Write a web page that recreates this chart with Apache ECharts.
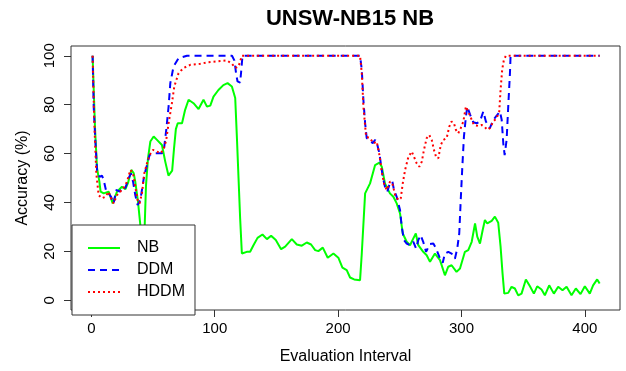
<!DOCTYPE html>
<html>
<head>
<meta charset="utf-8">
<script src="https://cdn.jsdelivr.net/npm/echarts@6/dist/echarts.min.js"></script>
<style>
  html, body { margin: 0; padding: 0; background: #fff; }
  #main { width: 626px; height: 371px; }
</style>
</head>
<body>
<div id="main"></div>
<script>
// values, [interval, accuracy]
var nbPoints = [
  [1, 100], [2, 85], [3, 70], [4.6, 54], [6.5, 48.5], [7.5, 44.4], [10, 43.7], [14, 44.4],
  [17.3, 39.6], [20.8, 44.4], [24.8, 46.4], [27.5, 45.4], [29.7, 48], [32.4, 53.3], [34.3, 52],
  [35.6, 48.5], [37.8, 40.3], [39.7, 30.7], [41.5, 15], [43.2, 30], [44.3, 47], [45.9, 58],
  [47.8, 64.9], [50.5, 67], [53.2, 65.6], [57.2, 63.5], [59.9, 56.7], [62.5, 51], [64, 50.5],
  [65.5, 53], [67, 62], [68.5, 70], [70, 72.4], [73.5, 72.4], [76, 77.9], [78.8, 82], [82.8, 80.6],
  [86.9, 78.2], [90.9, 82], [93.7, 79.2], [96.4, 79.6], [99, 83.3], [103, 86], [107, 88],
  [110.4, 88.8], [113.9, 87.4], [116.6, 82.7], [118, 66.3], [119.3, 49.9], [120.6, 33.5],
  [122, 19.1], [126, 19.8], [128.7, 19.8], [131.4, 22.5], [134.7, 25.5], [138.7, 26.9],
  [142.3, 25], [145.7, 26.4], [149.5, 24.6], [153.8, 20.9], [157.1, 21.9], [162.5, 25],
  [166.5, 22.8], [170.6, 22.3], [174.6, 23.6], [178.1, 22.8], [181.4, 20.5], [184, 20.1],
  [187.6, 21.5], [191.6, 17.4], [196.2, 19.1], [200.2, 17.4], [203.5, 13.3], [207, 12.3],
  [209.7, 9.3], [213, 8.5], [217.8, 8.2], [219.2, 19.1], [221.9, 43.7], [225.9, 47.8],
  [230, 55.3], [233.5, 56.3], [235.4, 54.6], [238, 47.8], [242, 43.7], [244.8, 42.3],
  [247.5, 39.6], [250.2, 35.5], [252.4, 27.3], [255.6, 23.9], [258.3, 22.5], [261, 25.3],
  [263, 27.3], [265, 22.5], [269, 19.8], [271.8, 18.4], [274.5, 15.7], [278.5, 19.1],
  [282.6, 16.4], [286.6, 10.2], [289.3, 13.7], [292, 14.3], [296, 11.6], [298.8, 13],
  [302.8, 19.8], [305.5, 20.5], [308.3, 23.9], [311, 31.4], [312.8, 26], [315, 23.2],
  [317.2, 28.7], [319, 32.8], [320.9, 31.4], [324.5, 32.5], [327.1, 34.2], [329.8, 31.7],
  [331.7, 21.9], [333.3, 10.9], [334.7, 2.7], [337.9, 3], [340.6, 5.5], [343.3, 4.8], [346, 2],
  [348.7, 2.7], [352.2, 8.5], [355.5, 5.7], [358.7, 2.7], [361.4, 5.7], [364.9, 4.4], [367.6, 2],
  [371.1, 6.1], [374.9, 2.7], [378.4, 5.5], [381.9, 4.1], [385.2, 5.5], [389.2, 2], [392.7, 4.8],
  [396.5, 2.5], [400, 5.7], [404, 2.7], [406.7, 6.1], [410, 8.5], [412, 6.8]
];

var ddmPoints = [
  [1, 100], [1.9, 79.2], [3.2, 65.6], [4.6, 53.3], [6.7, 50.5], [8.6, 51], [10, 49.2],
  [12.1, 44.4], [14, 43.7], [16, 42.3], [18, 39.6], [20.2, 45.1], [22.9, 44.4], [25.7, 46.4],
  [27.5, 45.8], [30.2, 49.9], [32.1, 51.9], [33.8, 48.5], [35.6, 43], [37.5, 38.9], [39.7, 41],
  [41, 45.1], [42.9, 51.2], [45.1, 55.3], [47.2, 59.4], [50.5, 60.1], [54.5, 60.1], [57.2, 60.1],
  [59.1, 62.8], [60.7, 69.7], [62.6, 79.2], [64, 88.8], [66.6, 95.6], [70.7, 99], [77.5, 100],
  [114, 100], [116, 98], [117.5, 92], [118.5, 89.5], [120.6, 89], [121.5, 94], [122.5, 100],
  [217.8, 100], [219.2, 94.3], [220.5, 82], [221.9, 72.4], [223.2, 66.3], [225.9, 65.6],
  [228.1, 64.2], [230, 65.6], [231.8, 63.5], [233.5, 60.1], [234.6, 56], [236.2, 50.5],
  [238, 46.4], [239.9, 44.4], [242.1, 48.1], [244, 48.5], [245.3, 45.1], [247.5, 42.3],
  [248.8, 41.7], [250.2, 36.9], [251.6, 30], [253.4, 24.6], [255.6, 23.2], [258.3, 22.5],
  [261, 23.9], [263.2, 21.2], [265, 24.6], [266.9, 26.6], [269, 23.9], [271.3, 19.8],
  [274.5, 23], [277.2, 23.2], [279.4, 21.2], [282.1, 17.7], [284.8, 15.3], [286.6, 19.1],
  [289.3, 19.8], [292, 19.1], [294.7, 17], [296.6, 21.2], [298.2, 27.3], [299.4, 41],
  [300.7, 54.6], [302, 66.9], [303.6, 75.1], [304.7, 79.2], [306.9, 76], [309.6, 72.8],
  [312.3, 72.4], [315, 73.1], [317.7, 77.2], [319.8, 73.1], [323, 70.4], [325.8, 73.8],
  [329, 75.8], [331.2, 77.2], [332.6, 73.8], [333.9, 64.2], [335, 59.4], [336.6, 65.6],
  [337.9, 79.2], [339.3, 92.9], [339.8, 100], [412, 100]
];

var hddmPoints = [
  [1, 100], [2.4, 72.4], [4, 51.9], [5.9, 43], [8.6, 41.7], [11.3, 42.3], [14, 44.4], [16, 41.7],
  [18, 39.6], [20.8, 43], [23.5, 44.4], [26.7, 46.4], [28.9, 48.5], [31.6, 53.3], [33.8, 51.9],
  [35.6, 46.4], [37.5, 41], [39.1, 39.6], [41, 43.7], [42.9, 51.9], [45.1, 56], [47.2, 59.4],
  [50, 61.5], [53.2, 60.8], [55.9, 60.1], [58.5, 61.5], [60.7, 65.6], [62.6, 72.4], [65.3, 80.6],
  [67.2, 87.4], [70.7, 92.9], [74.7, 95], [80.2, 96.3], [88.3, 96.7], [93.7, 97.3], [101.8, 97.7],
  [109.9, 98.1], [114, 96.7], [116.6, 95], [119.3, 95.6], [122, 100],
  [217.8, 100], [219.2, 92.9], [220.5, 79.2], [222.7, 66.9], [225.9, 66.3], [228.6, 64.2],
  [231.3, 64.9], [233.5, 59.4], [235.4, 52.6], [237.2, 47.8], [239.4, 45.1], [242.1, 48.5],
  [244, 47.8], [246.2, 43], [248.8, 41], [250.8, 41.7], [252.4, 47.8], [254.3, 53.3], [257, 58.7],
  [259.7, 60.8], [261.5, 58.7], [263.7, 56], [265.8, 54.6], [267.8, 56.6], [269.6, 61.5],
  [271.8, 66.3], [273.9, 67.6], [275.9, 65.6], [277.7, 61.5], [279.4, 58.7], [281.2, 58],
  [283.2, 63.5], [285.3, 65.6], [288, 66.3], [290.1, 71], [292, 73.1], [293.9, 72.4],
  [295.5, 69.7], [297.4, 68.3], [299.4, 70.4], [301.5, 73.1], [303.6, 79.2], [305.5, 77.2],
  [308.3, 73.8], [310.1, 71.7], [313.6, 71.3], [316.3, 71.7], [319, 70.8], [321, 69.7],
  [323, 70.4], [325.8, 73.1], [328.5, 74.5], [330.6, 77.2], [331.7, 86.1], [333, 94.3],
  [334.4, 98.4], [336, 100], [412, 100]
];

var seriesNames = ['NB', 'DDM', 'HDDM'];
var xTicks = [0, 100, 200, 300, 400];
var yTicks = [0, 20, 40, 60, 80, 100];

var font = "'Liberation Sans', Arial, sans-serif";
var myChart = echarts.init(document.getElementById('main'));

myChart.setOption({
  animation: false,
  title: {
    text: 'UNSW-NB15 NB',
    left: 345,
    top: 3,
    textAlign: 'center',
    textStyle: { fontFamily: font, fontSize: 22, fontWeight: 'bold', color: '#000' }
  },
  grid: {
    left: 71, right: 6, top: 46, bottom: 61,
    outerBoundsMode: 'none',
    containLabel: false,
    show: true, borderColor: '#333', borderWidth: 1
  },
  legend: {
    data: seriesNames,
    orient: 'vertical',
    left: 72, top: 225,
    itemWidth: 32, itemHeight: 14, itemGap: 6,
    padding: [15, 10, 15, 15],
    borderColor: '#333', borderWidth: 1,
    backgroundColor: '#fff',
    itemStyle: { opacity: 0 },
    textStyle: { fontFamily: font, fontSize: 16, color: '#000', padding: [0, 0, 0, 12] }
  },
  xAxis: {
    type: 'value',
    min: -16.5, max: 428.5,
    axisLine: { show: false, onZero: false },
    axisTick: { show: true, length: 7, customValues: xTicks, lineStyle: { color: '#333' } },
    axisLabel: { customValues: xTicks, margin: 11, fontSize: 15, fontFamily: font, color: '#000' },
    splitLine: { show: false },
    name: 'Evaluation Interval',
    nameLocation: 'middle',
    nameGap: 39,
    nameTextStyle: { fontFamily: font, fontSize: 16, color: '#000' }
  },
  yAxis: {
    type: 'value',
    min: -4, max: 104,
    axisLine: { show: false, onZero: false },
    axisTick: { show: true, length: 7, customValues: yTicks, lineStyle: { color: '#333' } },
    axisLabel: { customValues: yTicks, rotate: 90, margin: 14, fontSize: 15, fontFamily: font, color: '#000' },
    splitLine: { show: false },
    name: 'Accuracy (%)',
    nameLocation: 'middle',
    nameGap: 40,
    nameTextStyle: { fontFamily: font, fontSize: 16, color: '#000' }
  },
  series: [{
    name: 'NB',
    type: 'line',
    data: nbPoints,
    symbol: 'none',
    itemStyle: { color: '#00ff00' },
    lineStyle: { color: '#00ff00', width: 2 }
  }, {
    name: 'DDM',
    type: 'line',
    data: ddmPoints,
    symbol: 'none',
    itemStyle: { color: '#0000ff' },
    lineStyle: { color: '#0000ff', width: 2, type: [7, 5] }
  }, {
    name: 'HDDM',
    type: 'line',
    data: hddmPoints,
    symbol: 'none',
    itemStyle: { color: '#ff0000' },
    lineStyle: { color: '#ff0000', width: 2, type: [2, 3] }
  }]
});
</script>
</body>
</html>
